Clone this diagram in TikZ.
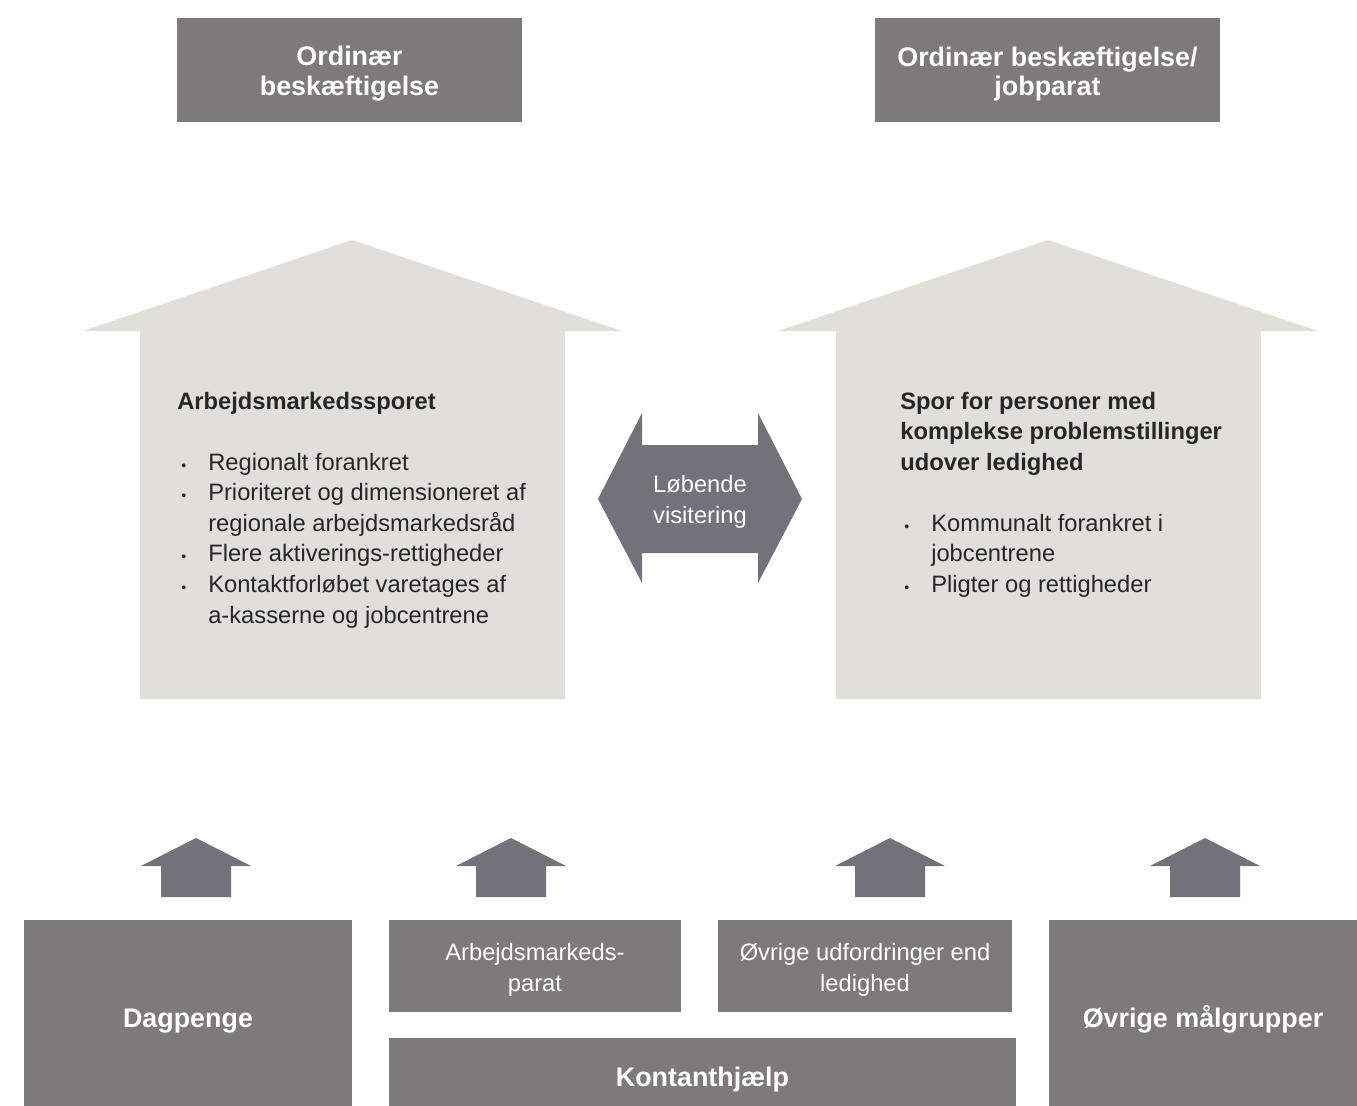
\documentclass[tikz,border=0pt]{standalone}
\usepackage{fontspec}
\setmainfont{Liberation Sans}
\usetikzlibrary{positioning}

\definecolor{boxgray}{HTML}{7D7B79}
\definecolor{housegray}{HTML}{E0DFDA}
\definecolor{arrowgray}{HTML}{70737A}

\newcommand{\bul}{\hspace*{2.3pt}\makebox[15.3pt][l]{\footnotesize\textbullet}}
\newcommand{\hang}{\hspace*{17.6pt}}

\tikzset{
    darkbox/.style={fill=boxgray, inner sep=0pt},
    boldlabel/.style={text=white, align=center, inner sep=0pt, yshift=-0.08cm,
        font=\fontsize{15.3}{17}\selectfont\bfseries},
    thinlabel/.style={boldlabel, font=\fontsize{13.5}{17.6}\selectfont},
    lowlabel/.style={boldlabel, yshift=-0.08cm},
    housetext/.style={anchor=north west, align=left, inner sep=0pt,
        text=black!85, font=\fontsize{13.5}{17.4}\selectfont},
}

\begin{document}
\begin{tikzpicture}[x=0.02cm, y=-0.02cm]
    \useasboundingbox (0,0) rectangle (1357,1106);

    % Top boxes
    \node[darkbox, minimum width=345*0.02cm, minimum height=104*0.02cm,
        label={[boldlabel]center:{Ordinær\\beskæftigelse}}] (ordleft) at (349.5,70) {};
    \node[darkbox, minimum width=345*0.02cm, minimum height=104*0.02cm,
        label={[boldlabel]center:{Ordinær beskæftigelse/\\jobparat}}] (ordright) at (1047.5,70) {};

    % Houses
    \fill[housegray] (83,331) -- (352,240) -- (622,331) -- (565,331) -- (565,699) -- (140,699) -- (140,331) -- cycle;
    \fill[housegray] (778,331) -- (1048,240) -- (1318,331) -- (1261,331) -- (1261,699) -- (836,699) -- (836,331) -- cycle;

    \node[housetext] (armspor) at (177,391.5) {\textbf{Arbejdsmarkedssporet}\\[17.4pt]
        \bul Regionalt forankret\\
        \bul Prioriteret og dimensioneret af\\
        \hang regionale arbejdsmarkedsråd\\
        \bul Flere aktiverings-rettigheder\\
        \bul Kontaktforløbet varetages af\\
        \hang a-kasserne og jobcentrene};

    \node[housetext] (kompspor) at (900,391.5) {\textbf{Spor for personer med}\\
        \textbf{komplekse problemstillinger}\\
        \textbf{udover ledighed}\\[17.4pt]
        \bul Kommunalt forankret i\\
        \hang jobcentrene\\
        \bul Pligter og rettigheder};

    % Double arrow
    \fill[arrowgray] (598,499) -- (642,413) -- (642,445) -- (758,445) -- (758,413) -- (802,499)
        -- (758,583) -- (758,553) -- (642,553) -- (642,583) -- cycle;
    \node[text=white, align=center, font=\fontsize{13.5}{17.6}\selectfont] (visit) at (700,502) {Løbende\\visitering};

    % Small up arrows
    \foreach \cx in {196,511,890,1205}
        \fill[arrowgray] (\cx,838) -- (\cx+55,866) -- (\cx+35,866) -- (\cx+35,897)
            -- (\cx-35,897) -- (\cx-35,866) -- (\cx-55,866) -- cycle;

    % Bottom boxes
    \node[darkbox, minimum width=328*0.02cm, minimum height=186*0.02cm,
        label={[lowlabel]center:Dagpenge}] (dagpenge) at (188,1013) {};
    \node[darkbox, minimum width=292*0.02cm, minimum height=92*0.02cm,
        label={[thinlabel]center:{Arbejdsmarkeds-\\parat}}] (amparat) at (535,966) {};
    \node[darkbox, minimum width=294*0.02cm, minimum height=92*0.02cm,
        label={[thinlabel]center:{Øvrige udfordringer end\\ledighed}}] (ovrudf) at (865,966) {};
    \node[darkbox, minimum width=627*0.02cm, minimum height=68*0.02cm,
        label={[lowlabel]center:Kontanthjælp}] (kontant) at (702.5,1072) {};
    \node[darkbox, minimum width=308*0.02cm, minimum height=186*0.02cm,
        label={[lowlabel, yshift=0.04cm]center:Øvrige målgrupper}] (ovrmaal) at (1203,1013) {};
\end{tikzpicture}
\end{document}
